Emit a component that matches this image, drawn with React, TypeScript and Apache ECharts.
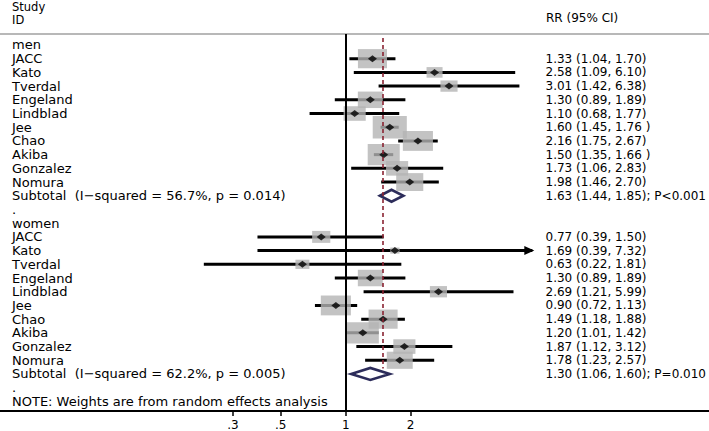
import { useEffect, useRef } from "react";
import * as echarts from "echarts";

// ---------- data ----------
const rowLabels = [
  "men",
  "JACC", "Kato", "Tverdal", "Engeland", "Lindblad", "Jee", "Chao", "Akiba", "Gonzalez", "Nomura",
  "Subtotal  (I\u2212squared = 56.7%, p = 0.014)",
  ".",
  "women",
  "JACC", "Kato", "Tverdal", "Engeland", "Lindblad", "Jee", "Chao", "Akiba", "Gonzalez", "Nomura",
  "Subtotal  (I\u2212squared = 62.2%, p = 0.005)",
  ".",
  "NOTE: Weights are from random effects analysis",
];

const rowValues = [
  "",
  "1.33 (1.04, 1.70)", "2.58 (1.09, 6.10)", "3.01 (1.42, 6.38)", "1.30 (0.89, 1.89)", "1.10 (0.68, 1.77)",
  "1.60 (1.45, 1.76 )", "2.16 (1.75, 2.67)", "1.50 (1.35, 1.66 )", "1.73 (1.06, 2.83)", "1.98 (1.46, 2.70)",
  "1.63 (1.44, 1.85); P<0.001",
  "",
  "",
  "0.77 (0.39, 1.50)", "1.69 (0.39, 7.32)", "0.63 (0.22, 1.81)", "1.30 (0.89, 1.89)", "2.69 (1.21, 5.99)",
  "0.90 (0.72, 1.13)", "1.49 (1.18, 1.88)", "1.20 (1.01, 1.42)", "1.87 (1.12, 3.12)", "1.78 (1.23, 2.57)",
  "1.30 (1.06, 1.60); P=0.010",
  "",
  "",
];

const menRR = [1.33, 2.58, 3.01, 1.30, 1.10, 1.60, 2.16, 1.50, 1.73, 1.98];
const menLo = [1.04, 1.09, 1.42, 0.89, 0.68, 1.45, 1.75, 1.35, 1.06, 1.46];
const menHi = [1.70, 6.10, 6.38, 1.89, 1.77, 1.76, 2.67, 1.66, 2.83, 2.70];
const menWeight = [6.9, 2.1, 2.4, 5.1, 4.0, 9.5, 7.4, 8.4, 4.0, 6.0];

const womenRR = [0.77, 1.69, 0.63, 1.30, 2.69, 0.90, 1.49, 1.20, 1.87, 1.78];
const womenLo = [0.39, 0.39, 0.22, 0.89, 1.21, 0.72, 1.18, 1.01, 1.12, 1.23];
const womenHi = [1.50, 7.32, 1.81, 1.89, 5.99, 1.13, 1.88, 1.42, 3.12, 2.57];
const womenWeight = [2.7, 0.7, 1.6, 5.1, 2.4, 7.4, 6.9, 8.4, 4.0, 5.5];

const subtotalRR = [1.63, 1.30];
const subtotalLo = [1.44, 1.06];
const subtotalHi = [1.85, 1.60];
const subtotalRows = [11, 24];

const overallRR = 1.49;

const tickValues = [0.3, 0.5, 1, 2];
const tickLabels = [".3", ".5", "1", "2"];

const headerLeft = ["Study", "ID"];
const headerRight = "RR (95% CI)";

// ---------- layout / style ----------
const FONT = "'DejaVu Sans', sans-serif";
const MEN_FIRST_ROW = 1;
const WOMEN_FIRST_ROW = 14;
const DISPLAY_MAX = 7; // CI beyond this gets an arrow
const BOX_K = 11.06;
const BOX_RATIO = 0.66;

type Item = [number, number, number, number, number];

function buildItems(rr: number[], lo: number[], hi: number[], w: number[], firstRow: number): Item[] {
  return rr.map((v, i) => [v, firstRow + i, lo[i], hi[i], w[i]] as Item);
}

const studyItems: Item[] = [
  ...buildItems(menRR, menLo, menHi, menWeight, MEN_FIRST_ROW),
  ...buildItems(womenRR, womenLo, womenHi, womenWeight, WOMEN_FIRST_ROW),
];

const rowIdx = rowLabels.map((_, i) => i);

export default function App() {
  const ref = useRef<HTMLDivElement>(null);

  useEffect(() => {
    if (!ref.current) return;
    const chart = echarts.init(ref.current, undefined, { renderer: "svg" });

    const headerStyle = (text: string, size: number) => ({
      text,
      fontSize: size,
      fontFamily: FONT,
      fill: "#000",
      verticalAlign: "middle",
      align: "left",
    });

    const option: any = {
      animation: false,
      backgroundColor: "#ffffff",
      textStyle: { fontFamily: FONT },
      grid: { left: 0, right: 0, top: 34, bottom: 18, containLabel: false },
      graphic: [
        { type: "text", x: 12, y: 6.8, style: headerStyle(headerLeft[0], 11.5) },
        { type: "text", x: 12, y: 19.8, style: headerStyle(headerLeft[1], 11.5) },
        { type: "text", x: 546, y: 18, style: headerStyle(headerRight, 12) },
      ],
      xAxis: [
        {
          type: "log",
          logBase: 10,
          min: 0.025,
          max: 48,
          position: "bottom",
          axisLine: { show: true, onZero: false, lineStyle: { color: "#000", width: 2 } },
          axisTick: { show: true, customValues: tickValues, length: 5, lineStyle: { color: "#000", width: 1.5 } },
          axisLabel: {
            show: true,
            customValues: tickValues,
            margin: 8,
            fontSize: 12,
            color: "#000",
            fontFamily: FONT,
            formatter: (v: number) => {
              const i = tickValues.findIndex((t) => Math.abs(t - v) < 1e-6);
              return i >= 0 ? tickLabels[i] : "";
            },
          },
          splitLine: { show: false },
          minorTick: { show: false },
        },
        {
          type: "log",
          logBase: 10,
          min: 0.025,
          max: 48,
          position: "top",
          axisLine: { show: true, onZero: false, lineStyle: { color: "#b8b8b8", width: 2 } },
          axisTick: { show: false },
          axisLabel: { show: false },
          splitLine: { show: false },
        },
      ],
      yAxis: [
        {
          type: "value",
          min: -0.8,
          max: 26.7,
          inverse: true,
          position: "left",
          axisLine: { show: false, onZero: false },
          axisTick: { show: false },
          splitLine: { show: false },
          axisLabel: {
            inside: true,
            margin: 12,
            align: "left",
            customValues: rowIdx,
            fontSize: 13,
            color: "#000",
            fontFamily: FONT,
            formatter: (v: number) => rowLabels[Math.round(v)] ?? "",
          },
        },
        {
          type: "value",
          min: -0.8,
          max: 26.7,
          inverse: true,
          position: "right",
          axisLine: { show: false, onZero: false },
          axisTick: { show: false },
          splitLine: { show: false },
          axisLabel: {
            inside: true,
            margin: 163,
            align: "left",
            customValues: rowIdx,
            fontSize: 12,
            color: "#000",
            fontFamily: FONT,
            formatter: (v: number) => rowValues[Math.round(v)] ?? "",
          },
        },
      ],
      series: [
        {
          name: "weights",
          type: "scatter",
          xAxisIndex: 0,
          yAxisIndex: 0,
          symbol: "rect",
          silent: true,
          data: studyItems.map((d) => [d[0], d[1], d[4]]),
          symbolSize: (val: number[]) => {
            const w = BOX_K * Math.sqrt(val[2]);
            return [w, w * BOX_RATIO];
          },
          itemStyle: { color: "#b4b4b4" },
        },
        {
          name: "ci",
          type: "custom",
          xAxisIndex: 0,
          yAxisIndex: 0,
          silent: true,
          encode: { x: [0, 2, 3], y: 1 },
          data: studyItems,
          renderItem: (_p: any, api: any) => {
            const row = api.value(1);
            const lo = api.value(2);
            const hi = api.value(3);
            const a = api.coord([lo, row]);
            const b = api.coord([hi, row]);
            const children: any[] = [
              {
                type: "line",
                shape: { x1: a[0], y1: a[1], x2: b[0], y2: b[1] },
                style: { stroke: "#000", lineWidth: 3 },
              },
            ];
            if (hi > DISPLAY_MAX) {
              children.push({
                type: "polygon",
                shape: { points: [[b[0] + 2, b[1]], [b[0] - 8, b[1] - 4.5], [b[0] - 8, b[1] + 4.5]] },
                style: { fill: "#000" },
              });
            }
            return { type: "group", children };
          },
          markLine: {
            silent: true,
            symbol: "none",
            label: { show: false },
            data: [
              [
                { coord: [1, -0.8], lineStyle: { color: "#000", width: 2, type: "solid" } },
                { coord: [1, 26.7] },
              ],
              [
                { coord: [overallRR, -0.5], lineStyle: { color: "#8a2432", width: 1.6, type: [4, 3] } },
                { coord: [overallRR, 23.6] },
              ],
            ],
          },
        },
        {
          name: "estimate",
          type: "scatter",
          xAxisIndex: 0,
          yAxisIndex: 0,
          symbol: "diamond",
          symbolSize: [9, 7],
          silent: true,
          data: studyItems.map((d) => [d[0], d[1]]),
          itemStyle: { color: "#000" },
        },
        {
          name: "subtotal",
          type: "custom",
          xAxisIndex: 0,
          yAxisIndex: 0,
          silent: true,
          encode: { x: [0, 2, 3], y: 1 },
          data: subtotalRR.map((v, i) => [v, subtotalRows[i], subtotalLo[i], subtotalHi[i]]),
          renderItem: (_p: any, api: any) => {
            const est = api.value(0);
            const row = api.value(1);
            const l = api.coord([api.value(2), row]);
            const e = api.coord([est, row]);
            const h = api.coord([api.value(3), row]);
            return {
              type: "polygon",
              shape: { points: [[l[0], l[1]], [e[0], e[1] - 6], [h[0], h[1]], [e[0], e[1] + 6]] },
              style: { fill: "#fff", stroke: "#2c2c5a", lineWidth: 2.6 },
            };
          },
        },
      ],
    };

    chart.setOption(option);
    return () => chart.dispose();
  }, []);

  return (
    <div
      ref={ref}
      style={{ position: "fixed", left: 0, top: 0, width: 709, height: 431, background: "#fff" }}
    />
  );
}
